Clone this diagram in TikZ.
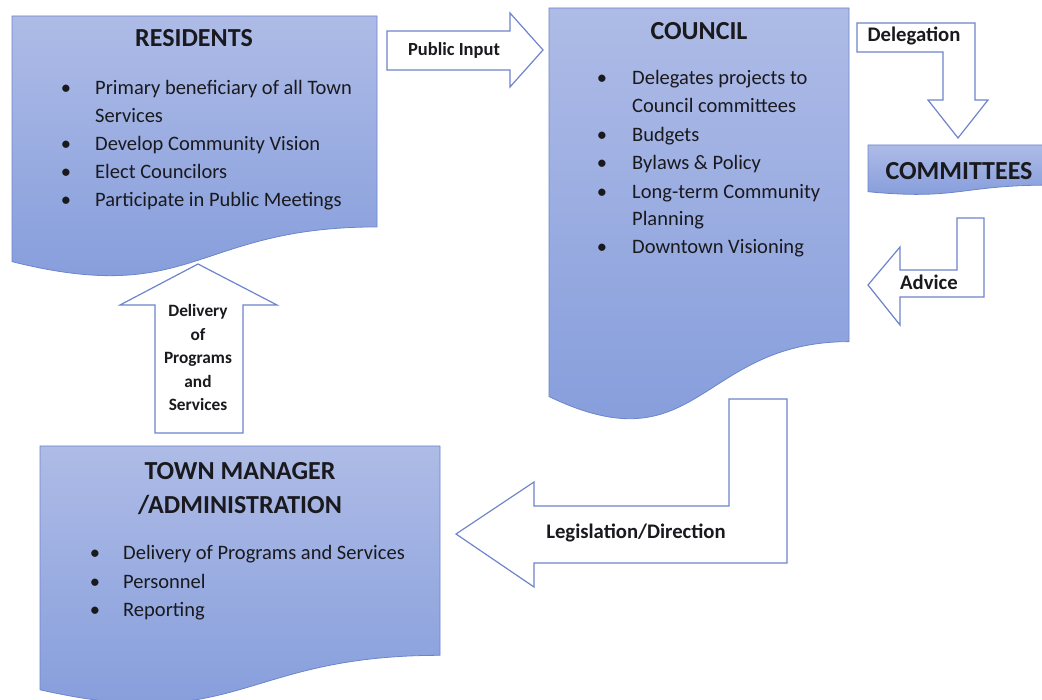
\documentclass[tikz,border=0pt]{standalone}
\usepackage{fontspec}
\setmainfont{Carlito}
\definecolor{shtop}{RGB}{174,187,230}
\definecolor{shbot}{RGB}{130,155,219}
\definecolor{shline}{RGB}{108,132,204}
\definecolor{arline}{RGB}{110,132,205}
\definecolor{txt}{RGB}{25,25,30}
\tikzset{
  docbox/.style={draw=shline, line width=0.8pt, top color=shtop, bottom color=shbot},
  blockarrow/.style={draw=arline, fill=white, line width=1.2pt, line join=miter},
  ttl/.style={anchor=base, inner sep=0, text=txt, font=\bfseries\fontsize{26}{30}\selectfont},
  itm/.style={anchor=base west, inner sep=0, text=txt, font=\fontsize{20.5}{24}\selectfont},
  bul/.style={anchor=base, inner sep=0, text=txt, font=\fontsize{20.5}{24}\selectfont},
  lab/.style={anchor=base, inner sep=0, text=txt, font=\bfseries\fontsize{18.5}{22}\selectfont},
  labL/.style={lab, font=\bfseries\fontsize{20.7}{24}\selectfont},
  labS/.style={lab, font=\bfseries\fontsize{17.3}{20}\selectfont},
}
% name, x, y, w, h  (y grows downwards)
\newcommand{\docshape}[5]{%
  \path[docbox] (#2,#3) -- ({#2+#4},#3) -- ({#2+#4},{#3+0.802*#5})
    .. controls ({#2+0.5*#4},{#3+0.802*#5}) and ({#2+0.5*#4},{#3+1.1075*#5}) .. (#2,{#3+0.934*#5}) -- cycle;
  \coordinate (#1) at ({#2+0.5*#4},#3);}
% name, bullet x, text x, baseline, text
\newcommand{\bitem}[5]{%
  \node[bul] (#1b) at (#2,#4) {\textbullet};
  \node[itm] (#1) at (#3,#4) {#5};}
\begin{document}
\begin{tikzpicture}[x=1pt,y=-1pt]
\useasboundingbox (0,0) rectangle (1042,700);

% ---------- document shapes ----------
\docshape{res}{12}{16}{365}{263}
\docshape{cou}{549}{8}{300}{416}
\docshape{com}{868}{145}{182}{50}
\docshape{tm}{40}{446}{400}{261}

% ---------- block arrows ----------
% Public Input (right)
\path[blockarrow] (387,31) -- (510,31) -- (510,13) -- (543,50) -- (510,87) -- (510,70) -- (387,70) -- cycle;
% Delegation (bent down)
\path[blockarrow] (857,23) -- (975,23) -- (975,100) -- (988,100) -- (958,138) -- (928,100) -- (943,100) -- (943,52) -- (857,52) -- cycle;
% Advice (bent left)
\path[blockarrow] (957,218) -- (984,218) -- (984,297) -- (900,297) -- (900,325) -- (868,285) -- (900,247) -- (900,270) -- (957,270) -- cycle;
% Delivery (up)
\path[blockarrow] (155,433) -- (155,305) -- (120,305) -- (198,264) -- (277,305) -- (243,305) -- (243,433) -- cycle;
% Legislation/Direction (bent left)
\path[blockarrow] (729,399) -- (787,399) -- (787,563) -- (534,563) -- (534,587) -- (456,534) -- (534,482) -- (534,506) -- (729,506) -- cycle;

% ---------- RESIDENTS ----------
\node[ttl] (restitle) at (194,47) {RESIDENTS};
\bitem{r1}{66}{95}{95}{Primary beneficiary of all Town}
\node[itm] (r1b2) at (95,123) {Services};
\bitem{r2}{66}{95}{151}{Develop Community Vision}
\bitem{r3}{66}{95}{179}{Elect Councilors}
\bitem{r4}{66}{95}{207}{Participate in Public Meetings}

% ---------- COUNCIL ----------
\node[ttl] (coutitle) at (699,40) {COUNCIL};
\bitem{c1}{602}{632}{85}{Delegates projects to}
\node[itm] (c1b2) at (632,113) {Council committees};
\bitem{c2}{602}{632}{142}{Budgets}
\bitem{c3}{602}{632}{170}{Bylaws \& Policy}
\bitem{c4}{602}{632}{199}{Long-term Community}
\node[itm] (c4b2) at (632,226) {Planning};
\bitem{c5}{602}{632}{254}{Downtown Visioning}

% ---------- COMMITTEES ----------
\node[ttl] (comtitle) at (959,180) {COMMITTEES};

% ---------- TOWN MANAGER ----------
\node[ttl] (tmtitle1) at (240,479) {TOWN MANAGER};
\node[ttl] (tmtitle2) at (240,514) {/ADMINISTRATION};
\bitem{t1}{95}{123}{559}{Delivery of Programs and Services}
\bitem{t2}{95}{123}{588}{Personnel}
\bitem{t3}{95}{123}{616}{Reporting}

% ---------- arrow labels ----------
\node[lab] (lpub) at (454,56) {Public Input};
\node[labL] (ldel) at (914,42) {Delegation};
\node[labL] (ladv) at (929,290) {Advice};
\node[labL] (lleg) at (636,538) {Legislation/Direction};
\node[labS] (ldv1) at (198,317) {Delivery};
\node[labS] (ldv2) at (198,341) {of};
\node[labS] (ldv3) at (198,364) {Programs};
\node[labS] (ldv4) at (198,388) {and};
\node[labS] (ldv5) at (198,411) {Services};
\end{tikzpicture}
\end{document}
